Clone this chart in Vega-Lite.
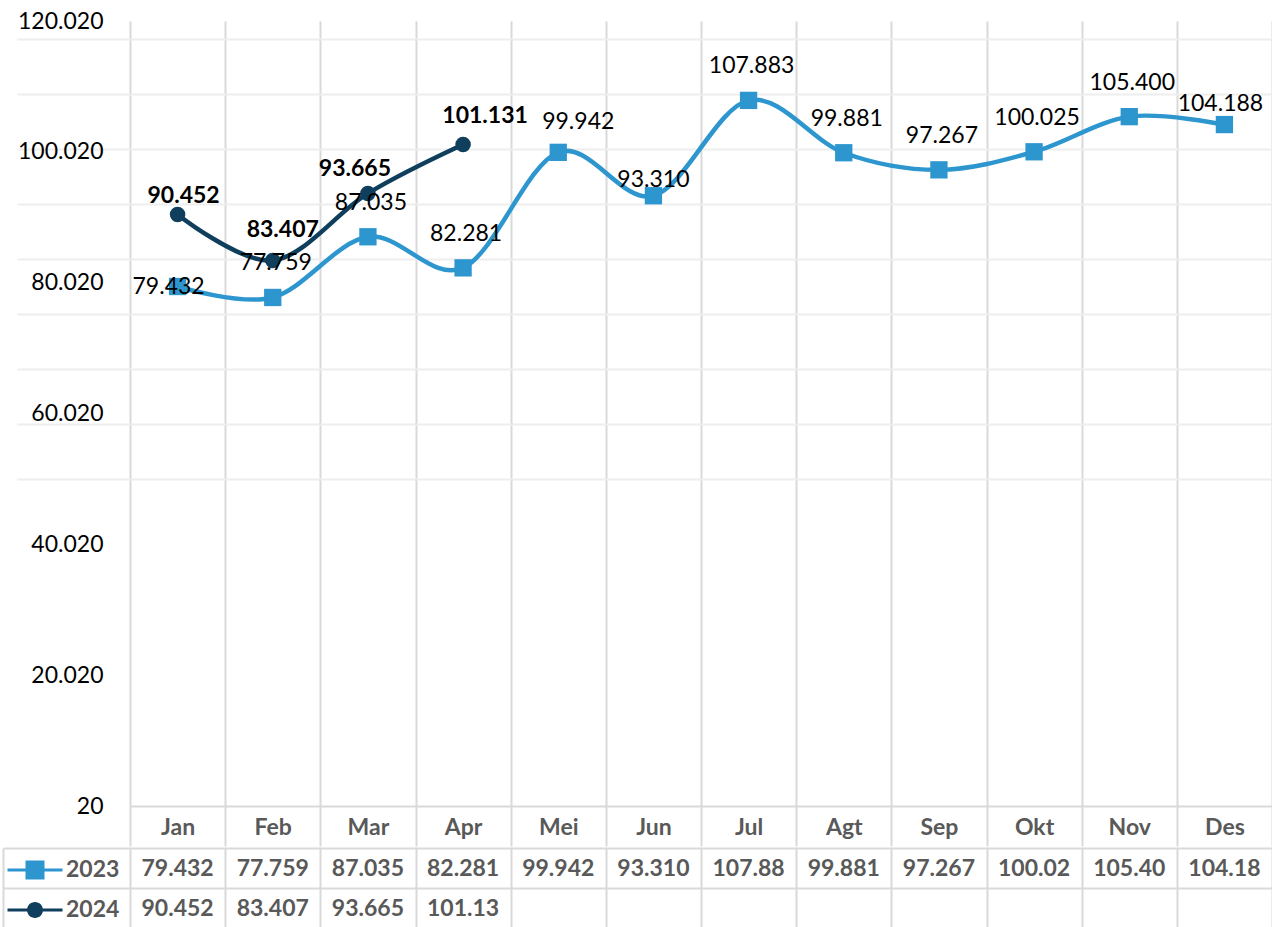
{
  "$schema": "https://vega.github.io/schema/vega-lite/v6.json",
  "background": "white",
  "padding": {"left": 2, "top": 10, "right": 0, "bottom": 0},
  "spacing": 0,
  "config": {
    "locale": {"number": {"decimal": ",", "thousands": ".", "grouping": [3], "currency": ["Rp", ""]}},
    "font": "Lato",
    "view": {"stroke": null},
    "legend": {"labelFont": "Lato", "labelFontSize": 23, "labelFontWeight": 700, "labelColor": "#595959", "rowPadding": 8, "padding": 2}
  },
  "datasets": {
    "sales": [
      {"month": "Jan", "series": "2023", "value": 79432},
      {"month": "Feb", "series": "2023", "value": 77759},
      {"month": "Mar", "series": "2023", "value": 87035},
      {"month": "Apr", "series": "2023", "value": 82281},
      {"month": "Mei", "series": "2023", "value": 99942},
      {"month": "Jun", "series": "2023", "value": 93310},
      {"month": "Jul", "series": "2023", "value": 107883},
      {"month": "Agt", "series": "2023", "value": 99881},
      {"month": "Sep", "series": "2023", "value": 97267},
      {"month": "Okt", "series": "2023", "value": 100025},
      {"month": "Nov", "series": "2023", "value": 105400},
      {"month": "Des", "series": "2023", "value": 104188},
      {"month": "Jan", "series": "2024", "value": 90452},
      {"month": "Feb", "series": "2024", "value": 83407},
      {"month": "Mar", "series": "2024", "value": 93665},
      {"month": "Apr", "series": "2024", "value": 101131}
    ]
  },
  "resolve": {
    "scale": {"color": "independent", "shape": "independent"},
    "legend": {"color": "independent", "shape": "independent"}
  },
  "vconcat": [
    {
      "width": 1142,
      "height": 785,
      "data": {"name": "sales"},
      "encoding": {
        "x": {
          "field": "month", "type": "nominal",
          "sort": ["Jan","Feb","Mar","Apr","Mei","Jun","Jul","Agt","Sep","Okt","Nov","Des"],
          "scale": {"domain": ["Jan","Feb","Mar","Apr","Mei","Jun","Jul","Agt","Sep","Okt","Nov","Des"], "paddingInner": 0, "paddingOuter": 0},
          "axis": {
            "title": null, "orient": "bottom", "tickBand": "extent",
            "grid": true, "gridColor": "#d9d9d9", "gridWidth": 2,
            "domain": true, "domainColor": "#d9d9d9", "domainWidth": 2,
            "ticks": true, "tickSize": 40, "tickColor": "#d9d9d9", "tickWidth": 2,
            "labelFont": "Lato", "labelFontSize": 23, "labelFontWeight": "bold", "labelColor": "#595959",
            "labelAngle": 0, "labelBaseline": "middle", "labelAlign": "center", "labelPadding": -19
          }
        },
        "y": {
          "field": "value", "type": "quantitative",
          "scale": {"domain": [20, 120020], "nice": false, "zero": false},
          "axis": {
            "title": null,
            "values": [20, 20020, 40020, 60020, 80020, 100020, 120020, 49960, 58380, 66800, 75220, 83640, 92060, 100480, 108900, 117320],
            "labelExpr": "(datum.value - 20) % 20000 == 0 ? format(datum.value, ',') : ''",
            "grid": true,
            "gridColor": {"condition": {"test": "(datum.value - 20) % 20000 == 0", "value": "transparent"}, "value": "#eeeeee"},
            "gridWidth": 2,
            "ticks": true, "tickSize": 113, "tickWidth": 2,
            "tickColor": {"condition": {"test": "(datum.value - 20) % 20000 == 0", "value": "transparent"}, "value": "#eeeeee"},
            "domain": false,
            "labelFont": "Lato", "labelFontSize": 23, "labelColor": "#000000",
            "labelPadding": -86, "labelFlush": false, "labelOverlap": false
          }
        }
      },
      "layer": [
        {
          "transform": [{"filter": "datum.series == '2023'"}],
          "mark": {"type": "line", "interpolate": "cardinal", "color": "#2E96CF", "strokeWidth": 4.5}
        },
        {
          "transform": [{"filter": "datum.series == '2023'"}],
          "mark": {"type": "point", "shape": "square", "filled": true, "size": 300, "color": "#2E96CF", "opacity": 1}
        },
        {
          "transform": [{"filter": "datum.series == '2024'"}],
          "mark": {"type": "line", "interpolate": "cardinal", "color": "#0F3F5C", "strokeWidth": 4.5}
        },
        {
          "transform": [{"filter": "datum.series == '2024'"}],
          "mark": {"type": "point", "shape": "circle", "filled": true, "size": 240, "color": "#0F3F5C", "opacity": 1}
        },
        {
          "transform": [{"filter": "datum.series == '2023' && indexof(['Jan','Mei','Jun','Des'], datum.month) < 0"}],
          "mark": {"type": "text", "font": "Lato", "fontSize": 23, "color": "#000000", "dx": 3, "dy": -34},
          "encoding": {"text": {"field": "value", "type": "quantitative", "format": ",.0f"}}
        },
        {
          "transform": [{"filter": "datum.series == '2023' && datum.month == 'Jan'"}],
          "mark": {"type": "text", "font": "Lato", "fontSize": 23, "color": "#000000", "dx": -9, "dy": 0},
          "encoding": {"text": {"field": "value", "type": "quantitative", "format": ",.0f"}}
        },
        {
          "transform": [{"filter": "datum.series == '2023' && datum.month == 'Mei'"}],
          "mark": {"type": "text", "font": "Lato", "fontSize": 23, "color": "#000000", "dx": 20, "dy": -30},
          "encoding": {"text": {"field": "value", "type": "quantitative", "format": ",.0f"}}
        },
        {
          "transform": [{"filter": "datum.series == '2023' && datum.month == 'Jun'"}],
          "mark": {"type": "text", "font": "Lato", "fontSize": 23, "color": "#000000", "dy": -16},
          "encoding": {"text": {"field": "value", "type": "quantitative", "format": ",.0f"}}
        },
        {
          "transform": [{"filter": "datum.series == '2023' && datum.month == 'Des'"}],
          "mark": {"type": "text", "font": "Lato", "fontSize": 23, "color": "#000000", "dx": -4, "dy": -21},
          "encoding": {"text": {"field": "value", "type": "quantitative", "format": ",.0f"}}
        },
        {
          "transform": [{"filter": "datum.series == '2024' && datum.month == 'Jan'"}],
          "mark": {"type": "text", "font": "Lato", "fontSize": 23, "fontWeight": "bold", "color": "#000000", "dx": 6, "dy": -18},
          "encoding": {"text": {"field": "value", "type": "quantitative", "format": ",.0f"}}
        },
        {
          "transform": [{"filter": "datum.series == '2024' && datum.month == 'Feb'"}],
          "mark": {"type": "text", "font": "Lato", "fontSize": 23, "fontWeight": "bold", "color": "#000000", "dx": 10, "dy": -31},
          "encoding": {"text": {"field": "value", "type": "quantitative", "format": ",.0f"}}
        },
        {
          "transform": [{"filter": "datum.series == '2024' && datum.month == 'Mar'"}],
          "mark": {"type": "text", "font": "Lato", "fontSize": 23, "fontWeight": "bold", "color": "#000000", "dx": -13, "dy": -24},
          "encoding": {"text": {"field": "value", "type": "quantitative", "format": ",.0f"}}
        },
        {
          "transform": [{"filter": "datum.series == '2024' && datum.month == 'Apr'"}],
          "mark": {"type": "text", "font": "Lato", "fontSize": 23, "fontWeight": "bold", "color": "#000000", "dx": 22, "dy": -29},
          "encoding": {"text": {"field": "value", "type": "quantitative", "format": ",.0f"}}
        }
      ]
    },
    {
      "width": 1142,
      "height": 80,
      "data": {"name": "sales"},
      "encoding": {
        "x": {
          "field": "month", "type": "nominal",
          "sort": ["Jan","Feb","Mar","Apr","Mei","Jun","Jul","Agt","Sep","Okt","Nov","Des"],
          "scale": {"domain": ["Jan","Feb","Mar","Apr","Mei","Jun","Jul","Agt","Sep","Okt","Nov","Des"], "paddingInner": 0, "paddingOuter": 0},
          "axis": {"title": null, "orient": "top", "labels": false, "ticks": false, "domain": false, "grid": true, "tickBand": "extent", "gridColor": "#d9d9d9", "gridWidth": 2}
        },
        "y": {
          "field": "series", "type": "nominal",
          "scale": {"domain": ["2023", "2024"], "paddingInner": 0, "paddingOuter": 0},
          "axis": {
            "title": null, "labels": false, "grid": true, "tickBand": "extent",
            "gridColor": "#d9d9d9", "gridWidth": 2,
            "ticks": true, "tickSize": -127, "tickColor": "#d9d9d9", "tickWidth": 2,
            "domain": true, "domainColor": "#d9d9d9", "domainWidth": 2, "offset": 127
          }
        }
      },
      "layer": [
        {
          "mark": {"type": "text", "font": "Lato", "fontSize": 23, "fontWeight": "bold", "color": "#595959", "limit": 80, "ellipsis": "\u200b", "dy": 1},
          "encoding": {"text": {"field": "value", "type": "quantitative", "format": ",.0f"}}
        },
        {
          "mark": {"type": "point", "filled": true, "opacity": 0},
          "encoding": {
            "color": {
              "field": "series", "type": "nominal",
              "scale": {"domain": ["2023", "2024"], "range": ["#2E96CF", "#0F3F5C"]},
              "legend": {"title": null, "orient": "left", "offset": -120, "symbolSize": 1600, "symbolStrokeWidth": 0, "symbolOpacity": 1, "labelFont": "Lato", "labelFontSize": 23, "labelFontWeight": 700, "labelColor": "#595959", "labelOffset": 11, "rowPadding": 8, "padding": 2, "labelBaseline": "middle", "encode": {"labels": {"update": {"fontWeight": {"value": "bold"}}}}}
            },
            "shape": {
              "field": "series", "type": "nominal",
              "scale": {"domain": ["2023", "2024"], "range": ["M-1.375,-0.075H1.375V0.075H-1.375Z M-0.475,-0.475H0.475V0.475H-0.475Z", "M-1.375,-0.075H1.375V0.075H-1.375Z M-0.4,0A0.4,0.4,0,1,1,0.4,0A0.4,0.4,0,1,1,-0.4,0Z"]},
              "legend": {"title": null, "orient": "left", "offset": -120, "symbolSize": 1600, "symbolStrokeWidth": 0, "symbolOpacity": 1, "labelFont": "Lato", "labelFontSize": 23, "labelFontWeight": 700, "labelColor": "#595959", "labelOffset": 11, "rowPadding": 8, "padding": 2, "labelBaseline": "middle", "encode": {"labels": {"update": {"fontWeight": {"value": "bold"}}}}}
            }
          }
        }
      ]
    }
  ]
}
